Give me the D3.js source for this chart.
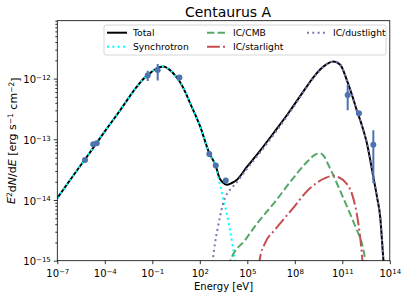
<!DOCTYPE html>
<html>
<head>
<meta charset="utf-8">
<script src="https://cdn.jsdelivr.net/npm/d3@7"></script>
<style>
  body { margin: 0; background: #fff; }
  text { font-family: "DejaVu Sans", sans-serif; fill: #000; }
</style>
</head>
<body>
<svg id="chart"></svg>
<script>
"use strict";

// ── Data (log10 E [eV], log10 E²dN/dE [erg s⁻¹ cm⁻²]) ──
const totalSed = [
  [-7, -13.97], [-6, -13.60], [-5, -13.24], [-4, -12.87], [-3, -12.51], [-2, -12.14],
  [-1.5, -11.99], [-1.14, -11.91], [-0.72, -11.83], [-0.3, -11.80], [0.12, -11.86],
  [0.45, -11.95], [0.76, -12.06], [1.1, -12.23], [1.38, -12.40], [2.01, -12.78],
  [2.60, -13.23], [3.01, -13.44], [3.23, -13.63], [3.45, -13.71], [3.70, -13.75],
  [4.02, -13.72], [4.33, -13.67], [4.96, -13.46], [5.80, -13.19], [6.65, -12.90],
  [7.70, -12.53], [8.12, -12.37], [8.65, -12.17], [9.17, -11.98], [9.6, -11.85],
  [10.02, -11.76], [10.44, -11.72], [10.87, -11.77], [11.28, -12.02], [11.6, -12.26],
  [11.91, -12.52], [12.25, -12.78], [12.55, -13.06], [12.96, -13.62], [13.2, -13.96],
  [13.39, -14.27], [13.6, -15.0], [13.7, -15.3]
];

const synchrotron = [
  [-7, -13.97], [-6, -13.60], [-5, -13.24], [-4, -12.87], [-3, -12.51], [-2, -12.14],
  [-1.5, -11.99], [-1.14, -11.91], [-0.72, -11.83], [-0.3, -11.80], [0.12, -11.86],
  [0.45, -11.95], [0.76, -12.06], [1.1, -12.23], [1.38, -12.40], [2.01, -12.78],
  [2.60, -13.23], [3.01, -13.45], [3.23, -13.70], [3.38, -13.86], [3.49, -14.0],
  [3.70, -14.22], [3.91, -14.5], [4.05, -14.72], [4.2, -15.0], [4.25, -15.2]
];

const icCmb = [
  [3.85, -15.1], [3.93, -15.0], [4.86, -14.66], [5.70, -14.36], [6.75, -14.03],
  [7.81, -13.67], [8.86, -13.35], [9.3, -13.25], [9.6, -13.23], [9.85, -13.28],
  [10.12, -13.42], [10.75, -13.78], [11.38, -14.16], [11.91, -14.49], [12.23, -14.71],
  [12.46, -15.0], [12.55, -15.15]
];

const icStarlight = [
  [5.75, -15.1], [5.80, -14.96], [6.12, -14.71], [6.75, -14.49], [7.81, -14.16],
  [8.86, -13.83], [9.91, -13.64], [10.44, -13.60], [10.8, -13.63], [11.17, -13.70],
  [11.6, -13.89], [11.91, -14.22], [12.12, -14.60], [12.27, -15.0], [12.32, -15.2]
];

const icDustlight = [
  [2.7, -15.2], [2.85, -14.93], [2.96, -14.71], [3.11, -14.49], [3.28, -14.27],
  [3.45, -14.08], [3.59, -13.97], [3.91, -13.83], [4.23, -13.74], [4.96, -13.49],
  [5.80, -13.22], [6.65, -12.93], [7.70, -12.55], [8.12, -12.39], [8.65, -12.18],
  [9.17, -11.99], [9.6, -11.86], [10.02, -11.76], [10.44, -11.72], [10.87, -11.77],
  [11.28, -12.02], [11.6, -12.26], [11.91, -12.52], [12.25, -12.78], [12.55, -13.06],
  [12.96, -13.62], [13.2, -13.96], [13.39, -14.27], [13.6, -15.0], [13.7, -15.3]
];

// measured points with vertical error bars
const obsE  = [-5.25, -4.73, -4.51, -1.29, -0.66, 0.71, 2.60, 3.01, 3.64, 11.34, 12.05, 12.96];
const obsF  = [-13.34, -13.08, -13.065, -11.95, -11.86, -11.98, -13.24, -13.43, -13.68, -12.27, -12.57, -13.09];
const obsLo = [-13.34, -13.08, -13.065, -12.04, -12.03, -11.98, -13.24, -13.43, -13.68, -12.52, -12.57, -13.72];
const obsHi = [-13.34, -13.08, -13.065, -11.87, -11.76, -11.98, -13.24, -13.43, -13.68, -12.10, -12.57, -12.85];

const xTickExp = [-7, -4, -1, 2, 5, 8, 11, 14];
const yTickExp = [-15, -14, -13, -12];

const seriesList = [
  { name: "Total",        data: totalSed,    color: "#000000", dash: null },
  { name: "Synchrotron",  data: synchrotron, color: "#00ffff", dash: "2,3.3" },
  { name: "IC/CMB",       data: icCmb,       color: "#55a868", dash: "7.4,3.2" },
  { name: "IC/starlight", data: icStarlight, color: "#c44e52", dash: "12.8,3.2,2,3.2" },
  { name: "IC/dustlight", data: icDustlight, color: "#8172b2", dash: "2,3.3" }
];

// ── Layout ──────────────────────────────────────────────────────────────────
const W = 407, H = 296;
const margin = { top: 20.7, right: 17.2, bottom: 35.3, left: 57.3 };
const iw = W - margin.left - margin.right;
const ih = H - margin.top - margin.bottom;

const svg = d3.select("#chart").attr("width", W).attr("height", H);

const x = d3.scaleLog().domain([1e-7, 1e14]).range([0, iw]);
const y = d3.scaleLog().domain([1e-15, 9e-12]).range([ih, 0]);

const g = svg.append("g").attr("transform", `translate(${margin.left},${margin.top})`);

g.append("clipPath").attr("id", "plotClip")
  .append("rect").attr("width", iw).attr("height", ih);

// ── Axes ────────────────────────────────────────────────────────────────────
function supLabel(sel, anchor) {
  sel.each(function(d) {
    const t = d3.select(this);
    const exp = Math.round(Math.log10(d));
    t.text(null).attr("text-anchor", anchor);
    t.append("tspan").text("10");
    t.append("tspan").attr("dy", "-0.45em").attr("font-size", "7px")
      .text(String(exp).replace("-", "\u2212"));
  });
}

const xAxis = g.append("g").attr("transform", `translate(0,${ih})`)
  .call(d3.axisBottom(x).tickValues(xTickExp.map(e => 10 ** e)).tickSize(3.5).tickPadding(3));
xAxis.selectAll(".tick text").attr("font-size", "10px").attr("dy", "0.95em").call(supLabel, "middle");

const yMinor = y.ticks().filter(v => Math.abs(Math.log10(v) - Math.round(Math.log10(v))) > 1e-6);
g.append("g")
  .call(d3.axisLeft(y).tickValues(yMinor).tickSize(2).tickFormat(""))
  .call(a => a.select(".domain").remove());

const yAxis = g.append("g")
  .call(d3.axisLeft(y).tickValues(yTickExp.map(e => 10 ** e)).tickSize(3.5).tickPadding(3));
yAxis.selectAll(".tick text").attr("font-size", "10px").attr("dy", "0.4em").call(supLabel, "end");

svg.selectAll(".domain").remove();
svg.selectAll(".tick line").attr("stroke", "#000").attr("stroke-width", 0.8);

// ── Curves ──────────────────────────────────────────────────────────────────
const line = d3.line()
  .x(d => x(10 ** d[0]))
  .y(d => y(10 ** d[1]))
  .curve(d3.curveMonotoneX);

const curves = g.append("g").attr("clip-path", "url(#plotClip)");
seriesList.forEach(s => {
  curves.append("path")
    .attr("d", line(s.data))
    .attr("fill", "none")
    .attr("stroke", s.color)
    .attr("stroke-width", 2)
    .attr("stroke-dasharray", s.dash);
});

// ── Measured points ─────────────────────────────────────────────────────────
const obs = obsE.map((e, i) => ({ e, f: obsF[i], lo: obsLo[i], hi: obsHi[i] }));
const pts = g.append("g").attr("clip-path", "url(#plotClip)");
pts.selectAll("line").data(obs).join("line")
  .attr("x1", d => x(10 ** d.e)).attr("x2", d => x(10 ** d.e))
  .attr("y1", d => y(10 ** d.lo)).attr("y2", d => y(10 ** d.hi))
  .attr("stroke", "#4c72b0").attr("stroke-width", 2);
pts.selectAll("circle").data(obs).join("circle")
  .attr("cx", d => x(10 ** d.e)).attr("cy", d => y(10 ** d.f))
  .attr("r", 3).attr("fill", "#4c72b0");

// frame
g.append("rect").attr("width", iw).attr("height", ih)
  .attr("fill", "none").attr("stroke", "#000").attr("stroke-width", 0.8);

// ── Legend ──────────────────────────────────────────────────────────────────
const leg = svg.append("g").attr("transform", "translate(104,25)");
leg.append("rect").attr("width", 282).attr("height", 30).attr("rx", 2)
  .attr("fill", "#fff").attr("fill-opacity", 0.8)
  .attr("stroke", "#cccccc").attr("stroke-width", 0.8);

const items = leg.selectAll(".legend-item").data(seriesList).join("g")
  .attr("class", "legend-item")
  .attr("transform", (_, i) => `translate(${3 + Math.floor(i / 2) * 100},${7.7 + (i % 2) * 14})`);
items.append("line")
  .attr("x1", 0).attr("x2", 20)
  .attr("stroke", d => d.color).attr("stroke-width", 2)
  .attr("stroke-dasharray", d => d.dash);
items.append("text")
  .attr("x", 26).attr("dy", "0.35em")
  .attr("font-size", "9.2px")
  .text(d => d.name);

// ── Titles ──────────────────────────────────────────────────────────────────
svg.append("text")
  .attr("x", 228).attr("y", 17)
  .attr("text-anchor", "middle").attr("font-size", "14px")
  .text("Centaurus A");

svg.append("text")
  .attr("x", margin.left + iw / 2).attr("y", 290)
  .attr("text-anchor", "middle").attr("font-size", "10px")
  .text("Energy [eV]");

const yl = svg.append("text")
  .attr("transform", `translate(14.5,${margin.top + ih / 2}) rotate(-90)`)
  .attr("text-anchor", "middle").attr("font-size", "11px");
yl.append("tspan").attr("font-style", "italic").text("E");
yl.append("tspan").attr("dy", "-0.4em").attr("font-size", "7.5px").text("2");
yl.append("tspan").attr("dy", "0.4em").text("d");
yl.append("tspan").attr("font-style", "italic").text("N");
yl.append("tspan").text("/d");
yl.append("tspan").attr("font-style", "italic").text("E");
yl.append("tspan").text(" [erg s");
yl.append("tspan").attr("dy", "-0.4em").attr("font-size", "7.5px").text("\u22121");
yl.append("tspan").attr("dy", "0.4em").text(" cm");
yl.append("tspan").attr("dy", "-0.4em").attr("font-size", "7.5px").text("\u22122");
yl.append("tspan").attr("dy", "0.4em").text("]");
</script>
</body>
</html>
